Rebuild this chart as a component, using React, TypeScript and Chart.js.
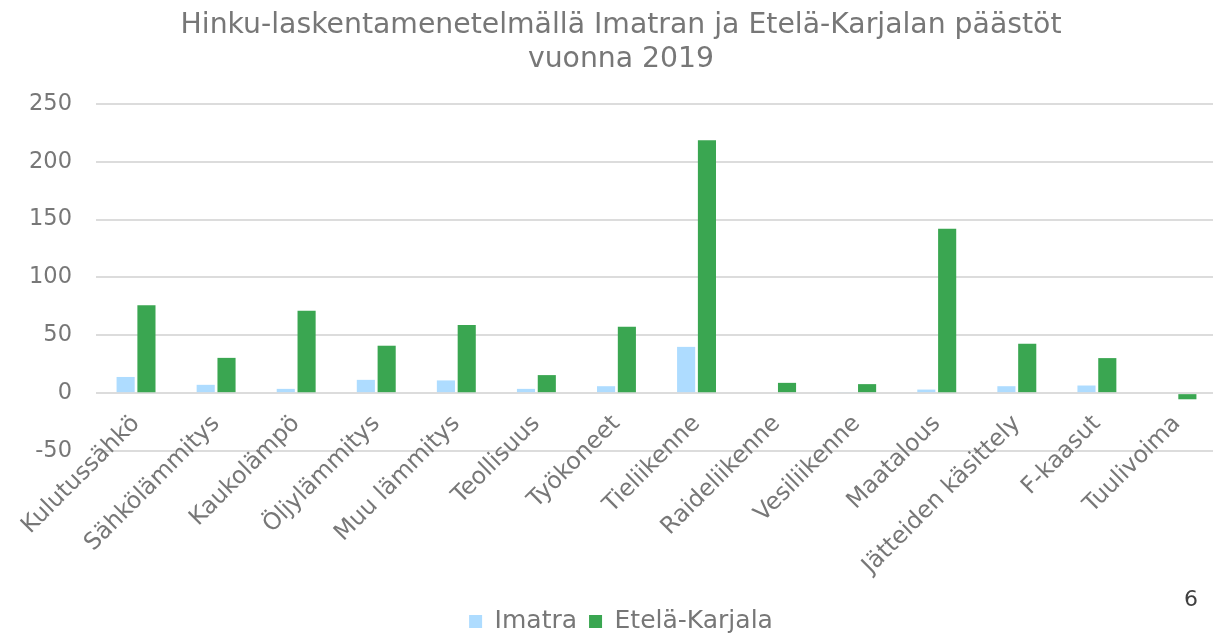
import React, { useEffect, useRef } from "react";
import { Chart, registerables } from "chart.js";

Chart.register(...registerables);

const titleLines = ["Hinku-laskentamenetelmällä Imatran ja Etelä-Karjalan päästöt", "vuonna 2019"];
const categories = [
  "Kulutussähkö",
  "Sähkölämmitys",
  "Kaukolämpö",
  "Öljylämmitys",
  "Muu lämmitys",
  "Teollisuus",
  "Työkoneet",
  "Tieliikenne",
  "Raideliikenne",
  "Vesiliikenne",
  "Maatalous",
  "Jätteiden käsittely",
  "F-kaasut",
  "Tuulivoima",
];
const imatra = [14, 7.2, 3.7, 11.5, 11, 3.7, 6, 40, 0, 0.8, 3.1, 6, 6.6, 0];
const etelaKarjala = [76, 30.5, 71.3, 41, 59, 15.6, 57.5, 218.7, 8.9, 7.8, 142, 42.7, 30.3, -5.3];
const yTicks = { min: -50, max: 250, step: 50 };
const pageNumber = "6";

const FONT = "'DejaVu Sans', Verdana, sans-serif";
const GRAY = "#777777";

export default function App() {
  const canvasRef = useRef<HTMLCanvasElement | null>(null);

  useEffect(() => {
    if (!canvasRef.current) return;
    const chart = new Chart(canvasRef.current, {
      type: "bar",
      data: {
        labels: categories,
        datasets: [
          {
            label: "Imatra",
            data: imatra,
            backgroundColor: "#aedcff",
            categoryPercentage: 0.52,
            barPercentage: 0.87,
          },
          {
            label: "Etelä-Karjala",
            data: etelaKarjala,
            backgroundColor: "#3aa651",
            categoryPercentage: 0.52,
            barPercentage: 0.87,
          },
        ],
      },
      options: {
        responsive: false,
        animation: false,
        devicePixelRatio: 1,
        layout: { padding: 0 },
        plugins: {
          title: {
            display: true,
            text: titleLines,
            color: GRAY,
            font: { family: FONT, size: 28.3, weight: "normal", lineHeight: 1.2 },
            padding: { top: 9, bottom: 27 },
          },
          legend: {
            position: "bottom",
            labels: {
              color: GRAY,
              font: { family: FONT, size: 25 },
              boxWidth: 13,
              boxHeight: 13,
              padding: 12,
            },
          },
          tooltip: { enabled: false },
        },
        scales: {
          x: {
            position: { y: -50 },
            grid: { display: false, drawTicks: false },
            border: { display: false },
            ticks: {
              color: GRAY,
              font: { family: FONT, size: 23.5 },
              minRotation: 45,
              maxRotation: 45,
              autoSkip: false,
              padding: -41,
            },
            afterFit: (scale: any) => {
              scale.paddingLeft = 0;
              scale.paddingRight = 0;
              scale.paddingTop = 0;
              scale.paddingBottom = 0;
            },
          },
          xSpace: {
            type: "linear",
            position: "bottom",
            min: 0,
            max: 1,
            display: true,
            grid: { display: false, drawTicks: false },
            border: { display: false },
            ticks: { display: false },
            afterFit: (scale: any) => {
              scale.height = 146;
              scale.paddingLeft = 0;
              scale.paddingRight = 0;
            },
          },
          y: {
            min: yTicks.min,
            max: yTicks.max,
            grid: { color: "#dcdcdc", lineWidth: 2, drawTicks: false },
            border: { display: false },
            ticks: {
              stepSize: yTicks.step,
              color: GRAY,
              font: { family: FONT, size: 22.5 },
              padding: 24,
            },
            afterFit: (scale: any) => {
              scale.width = 96;
            },
          },
          ySpace: {
            type: "linear",
            position: "right",
            min: 0,
            max: 1,
            display: true,
            grid: { display: false, drawTicks: false },
            border: { display: false },
            ticks: { display: false },
            afterFit: (scale: any) => {
              scale.width = 25;
              scale.paddingTop = 0;
              scale.paddingBottom = 0;
            },
          },
        },
      },
    });
    return () => chart.destroy();
  }, []);

  return (
    <div
      style={{
        position: "fixed",
        left: 0,
        top: 0,
        width: 1213,
        height: 633,
        overflow: "hidden",
        background: "#ffffff",
      }}
    >
      <canvas ref={canvasRef} width={1242} height={644} style={{ display: "block" }} />
      <div
        style={{
          position: "absolute",
          left: 1184,
          top: 586,
          fontFamily: FONT,
          fontSize: 22,
          color: "#404040",
          lineHeight: "26px",
        }}
      >
        {pageNumber}
      </div>
    </div>
  );
}
